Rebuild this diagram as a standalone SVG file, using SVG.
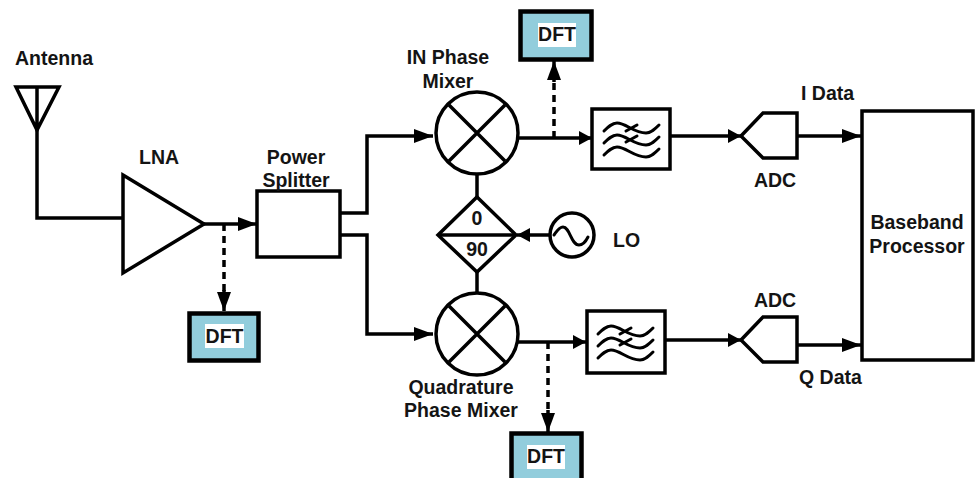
<svg xmlns="http://www.w3.org/2000/svg" width="975" height="478" viewBox="0 0 975 478">
<style>
text{font-family:"Liberation Sans",Arial,sans-serif;font-weight:700;font-size:19.500px;fill:#141414}
.m{text-anchor:middle}
.s{fill:none;stroke:#000;stroke-width:3.500}
.b{fill:#fff;stroke:#000;stroke-width:3.500}
.w{fill:none;stroke:#000;stroke-width:3;stroke-linecap:round}
.d{fill:#92cddc;stroke:#000;stroke-width:4.500}
.dash{fill:none;stroke:#000;stroke-width:3.500;stroke-dasharray:7 5}
</style>
<defs>
<marker id="a" markerUnits="userSpaceOnUse" markerWidth="19" markerHeight="14" refX="19" refY="7" orient="auto"><path d="M0 0L19 7L0 14Z" fill="#000"/></marker>
<marker id="a2" markerUnits="userSpaceOnUse" markerWidth="13" markerHeight="14" refX="13" refY="7" orient="auto"><path d="M0 0L13 7L0 14Z" fill="#000"/></marker>
<g id="waves">
<path class="w" d="M0 9C4 5 8 1 13 1C22 1 30 11 42 11C47 11 51 7 55 3"/>
<path class="w" d="M0 21C4 17 8 13 13 13C22 13 30 23 42 23C47 23 51 19 55 15"/>
<path class="w" d="M0 33C4 29 8 25 13 25C22 25 30 35 42 35C47 35 51 31 55 27"/>
<path class="w" d="M22 9L33 3M22 20L33 14"/>
</g>
<g id="x">
<circle class="b" r="41"/>
<path class="s" d="M-28 -28L28 28M-28 28L28 -28"/>
</g>
</defs>
<g id="connectors">
<path class="s" d="M37 130V218H123"/>
<path class="s" d="M204 224H257" marker-end="url(#a)"/>
<path class="dash" d="M224 224V295"/>
<path class="s" d="M224 290V311" marker-end="url(#a)"/>
<path class="s" d="M340 213H367V136H433" marker-end="url(#a)"/>
<path class="s" d="M340 235H367V334H433" marker-end="url(#a)"/>
<path class="s" d="M477 174V197M477 272V293"/>
<path class="s" d="M551 235H517" marker-end="url(#a2)"/>
<path class="s" d="M518 138H592" marker-end="url(#a2)"/>
<path class="dash" d="M554 138V75"/>
<path class="s" d="M554 82V61" marker-end="url(#a)"/>
<path class="s" d="M518 342H586" marker-end="url(#a2)"/>
<path class="dash" d="M548 342V415"/>
<path class="s" d="M548 410V432" marker-end="url(#a)"/>
<path class="s" d="M670 136H741" marker-end="url(#a2)"/>
<path class="s" d="M665 340H741" marker-end="url(#a2)"/>
<path class="s" d="M797 136H861" marker-end="url(#a)"/>
<path class="s" d="M797 345H861" marker-end="url(#a)"/>
</g>
<g id="antenna"><path class="s" d="M16 87H59L37 130ZM37 87V130"/><text x="15" y="65">Antenna</text></g>
<g id="lna"><path class="b" d="M123 175L204 224L123 273Z"/><text x="139" y="164">LNA</text></g>
<g id="splitter"><rect class="b" x="257" y="191" width="83" height="66"/><text class="m" x="296" y="164">Power</text><text class="m" x="296" y="187">Splitter</text></g>
<g id="dft1"><rect class="d" x="189.500" y="313.500" width="69" height="47"/><rect x="205" y="324" width="39" height="24" fill="#fff"/><text class="m" x="224.500" y="343">DFT</text></g>
<g id="inmixer"><use href="#x" x="477" y="133"/><text class="m" x="448" y="64">IN Phase</text><text class="m" x="448" y="88">Mixer</text></g>
<g id="qmixer"><use href="#x" x="477" y="334"/><text class="m" x="461" y="394">Quadrature</text><text class="m" x="461" y="417">Phase Mixer</text></g>
<g id="splitter90"><path class="b" d="M477 197L516 235L477 272L438 235Z"/><path class="s" d="M438 235H516"/><text class="m" x="477" y="225">0</text><text class="m" x="477" y="256">90</text></g>
<g id="lo"><circle class="b" cx="572" cy="235" r="22"/><path class="w" d="M554 235C557 231 559 227 563 227C570 227 571 245 579 245C583 245 586 241 588 237"/><text x="613" y="247">LO</text></g>
<g id="dft2"><rect class="d" x="520.500" y="11.500" width="71" height="48"/><rect x="538" y="23" width="38" height="24" fill="#fff"/><text class="m" x="557" y="41">DFT</text></g>
<g id="dft3"><rect class="d" x="511.500" y="433.500" width="70" height="50"/><rect x="527" y="445" width="38" height="24" fill="#fff"/><text class="m" x="546" y="463">DFT</text></g>
<g id="filter1"><rect class="b" x="592" y="109" width="78" height="60"/><use href="#waves" x="604" y="122"/></g>
<g id="filter2"><rect class="b" x="587" y="311" width="78" height="62"/><use href="#waves" x="598" y="325"/></g>
<g id="adc1"><path class="b" d="M741 136L763 113H797V158H763Z"/><text class="m" x="775" y="187">ADC</text></g>
<g id="adc2"><path class="b" d="M741 340L763 317H797V362H763Z"/><text class="m" x="775" y="307">ADC</text></g>
<g id="baseband"><rect class="b" x="862" y="111" width="111" height="249"/><text class="m" x="917" y="229">Baseband</text><text class="m" x="917" y="253">Processor</text></g>
<text x="801" y="100">I Data</text>
<text x="799" y="384">Q Data</text>
</svg>
